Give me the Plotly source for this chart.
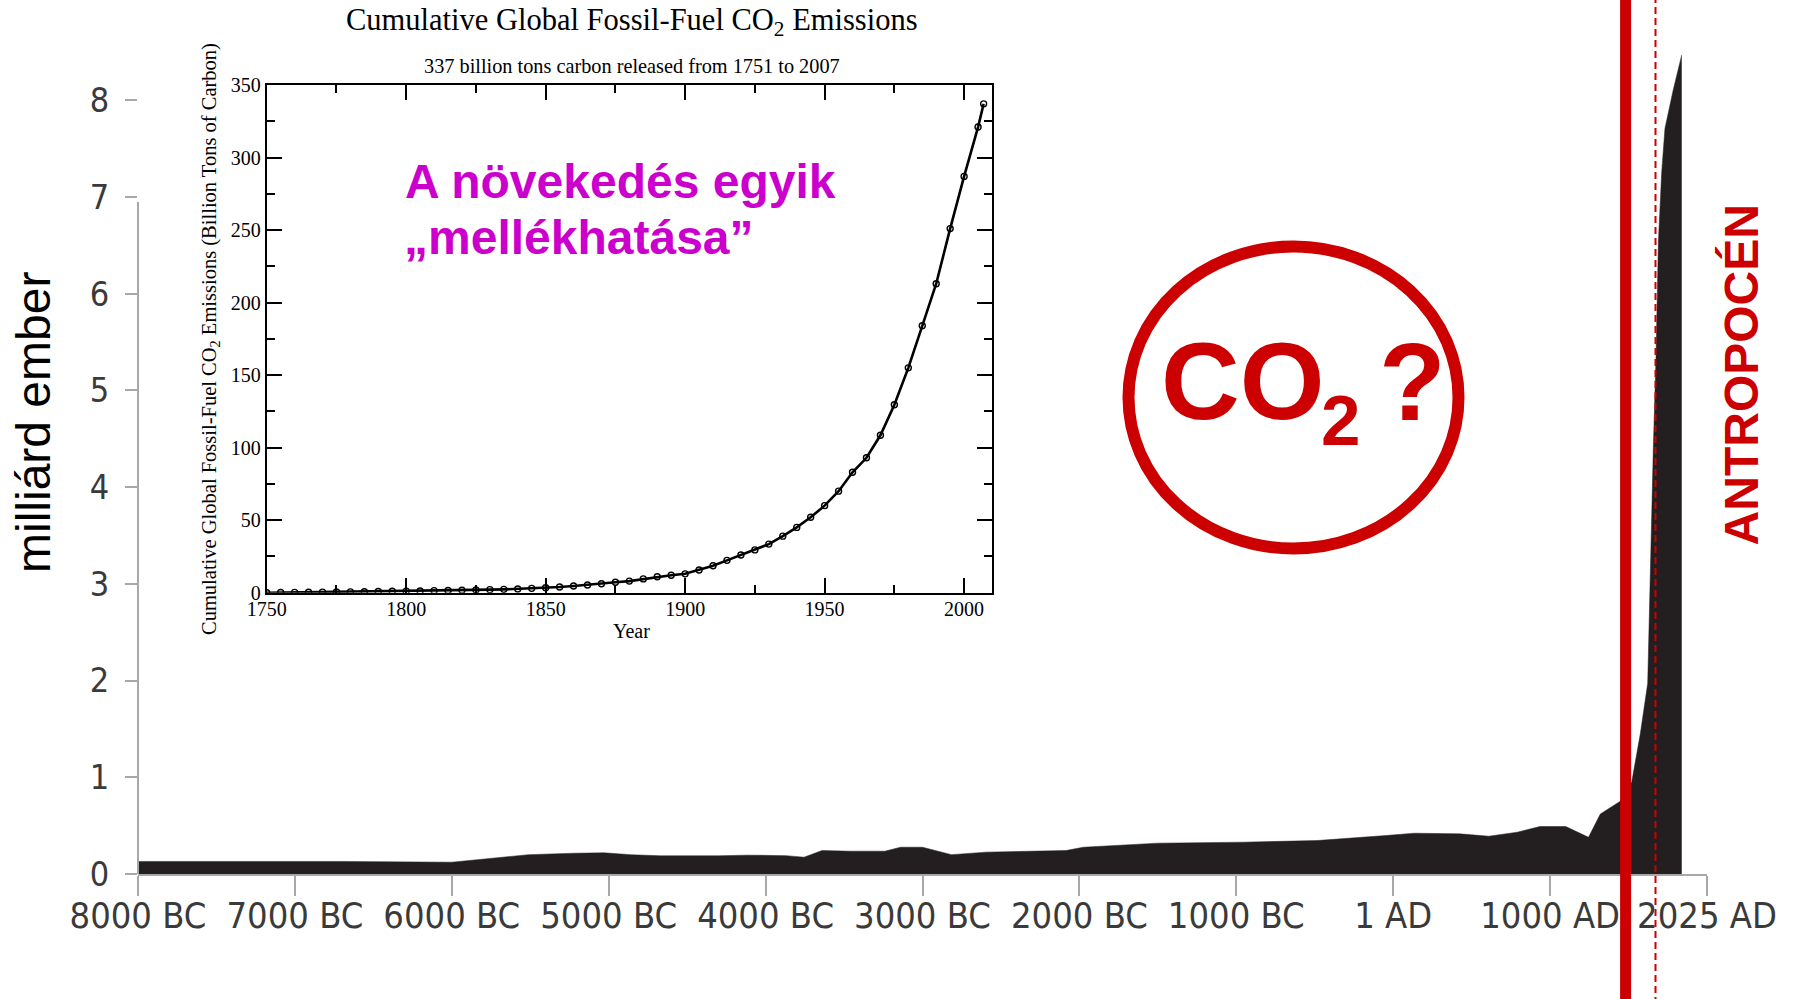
import plotly.graph_objects as go

# ---------------- data ----------------
# world population (billions) vs. year (position on the time axis)
pop_years = [-8000, -6700, -6000, -5850, -5660, -5510, -5220, -5030, -4860, -4670,
             -4300, -4120, -3870, -3755, -3640, -3460, -3240, -3140, -3000, -2815,
             -2595, -2085, -1975, -1500, -955, -485, -45, 135, 425, 610,
             790, 935, 1100, 1245, 1320, 1445, 1520, 1575, 1622, 1637,
             1658, 1675, 1690, 1711, 1732, 1785, 1839]
pop_values = [0.13, 0.13, 0.122, 0.147, 0.174, 0.20, 0.215, 0.219, 0.20, 0.188,
              0.188, 0.195, 0.19, 0.174, 0.243, 0.236, 0.236, 0.277, 0.277, 0.20,
              0.226, 0.243, 0.277, 0.319, 0.329, 0.346, 0.398, 0.422, 0.415, 0.391,
              0.432, 0.491, 0.491, 0.38, 0.62, 0.75, 0.95, 1.45, 1.97, 3.1,
              4.41, 5.34, 6.53, 7.25, 7.71, 8.11, 8.47]

x_tick_vals = [-8000, -7000, -6000, -5000, -4000, -3000, -2000, -1000, 0, 1000, 2000]
x_tick_text = ["8000 BC", "7000 BC", "6000 BC", "5000 BC", "4000 BC", "3000 BC",
               "2000 BC", "1000 BC", "1 AD", "1000 AD", "2025 AD"]
y_tick_vals = [0, 1, 2, 3, 4, 5, 6, 7, 8]

# cumulative fossil-fuel CO2 emissions (billion tons carbon)
co2_years = [1750, 1755, 1760, 1765, 1770, 1775, 1780, 1785, 1790, 1795,
             1800, 1805, 1810, 1815, 1820, 1825, 1830, 1835, 1840, 1845,
             1850, 1855, 1860, 1865, 1870, 1875, 1880, 1885, 1890, 1895,
             1900, 1905, 1910, 1915, 1920, 1925, 1930, 1935, 1940, 1945,
             1950, 1955, 1960, 1965, 1970, 1975, 1980, 1985, 1990, 1995,
             2000, 2005, 2007]
co2_values = [0.0, 0.1, 0.2, 0.3, 0.4, 0.5, 0.6, 0.7, 0.8, 1.0,
              1.1, 1.2, 1.4, 1.5, 1.7, 1.9, 2.1, 2.3, 2.6, 3.0,
              3.4, 3.9, 4.6, 5.3, 6.2, 7.2, 8.0, 9.5, 11.0, 12.0,
              13.0, 15.6, 18.6, 22.3, 26.0, 29.5, 33.5, 39.0, 45.0, 52.0,
              60.0, 70.0, 83.0, 93.0, 108.5, 129.6, 155.0, 184.0, 213.0, 251.0,
              287.0, 321.0, 337.0]
co2_x_ticks = [1750, 1800, 1850, 1900, 1950, 2000]

# ---------------- geometry helpers (pixel -> paper) ----------------
W, H = 1795, 999
ML, MR, MT, MB = 138, 88, 52, 125
PW, PH = W - ML - MR, H - MT - MB


def px(X):
    return (X - ML) / PW


def py(Y):
    return (H - MB - Y) / PH


RED = "#cc0000"
MAG = "#cc00cc"
AREA = "#231f20"
GRAY = "#a8a8a8"
SANS = "Liberation Sans, Arial, sans-serif"
SERIF = "Liberation Serif, Times New Roman, serif"
TICKFONT = "DejaVu Sans Condensed, DejaVu Sans, sans-serif"

fig = go.Figure()

fig.add_trace(go.Scatter(
    x=pop_years, y=pop_values, mode="lines", fill="tozeroy",
    line=dict(color=AREA, width=0.5), fillcolor=AREA,
    hoverinfo="skip", showlegend=False, xaxis="x", yaxis="y"))

fig.add_trace(go.Scatter(
    x=co2_years, y=co2_values, mode="lines+markers",
    line=dict(color="black", width=2.6),
    marker=dict(symbol="circle-open", size=6, color="black", line=dict(width=1.4)),
    hoverinfo="skip", showlegend=False, xaxis="x2", yaxis="y2"))

fig.update_layout(
    width=W, height=H, autosize=False,
    margin=dict(l=ML, r=MR, t=MT, b=MB, pad=0),
    paper_bgcolor="white", plot_bgcolor="rgba(0,0,0,0)",
    showlegend=False,
    xaxis=dict(range=[-8000, 2000], tickvals=x_tick_vals, ticktext=x_tick_text,
               showgrid=False, zeroline=False, showline=True, linecolor=GRAY,
               linewidth=2, ticks="outside", ticklen=20, tickwidth=2, tickcolor=GRAY,
               tickfont=dict(family=TICKFONT, size=36, color="#3a3a3a"),
               ticklabelstandoff=-11),
    yaxis=dict(range=[0, 8.5], tickvals=y_tick_vals, showgrid=False, zeroline=False,
               showline=False, ticks="outside", ticklen=12, tickwidth=2, tickcolor=GRAY,
               tickfont=dict(family=TICKFONT, size=34, color="#3a3a3a"),
               ticklabelstandoff=9),
    xaxis2=dict(domain=[px(266.7), px(992)], anchor="y2", range=[1750, 2010],
                tickvals=co2_x_ticks,
                showgrid=False, zeroline=False, showline=True, linecolor="black",
                linewidth=2, mirror="ticks", ticks="inside", ticklen=15, tickwidth=2,
                tickcolor="black",
                minor=dict(dtick=25, tick0=1750, ticks="inside", ticklen=8,
                           tickwidth=2, tickcolor="black"),
                tickfont=dict(family=SERIF, size=20, color="black"),
                ticklabelstandoff=-3),
    yaxis2=dict(domain=[py(592.7), py(85)], anchor="x2", range=[0, 350], dtick=50,
                showgrid=False, zeroline=False, showline=True, linecolor="black",
                linewidth=2, mirror="ticks", ticks="inside", ticklen=15, tickwidth=2,
                tickcolor="black",
                minor=dict(dtick=25, ticks="inside", ticklen=8, tickwidth=2,
                           tickcolor="black"),
                tickfont=dict(family=SERIF, size=20, color="black")),
)

shapes = [
    # y axis line (only up to ~7)
    dict(type="line", xref="paper", yref="y", x0=0, x1=0, y0=0, y1=6.95,
         line=dict(color=GRAY, width=2)),
    # CO2 ring
    dict(type="circle", xref="paper", yref="paper",
         x0=px(1128.5), x1=px(1458.5), y0=py(548.5), y1=py(246.5),
         line=dict(color=RED, width=12)),
    # thick red vertical line
    dict(type="line", xref="paper", yref="paper", x0=px(1625.6), x1=px(1625.6),
         y0=py(H + 5), y1=py(-5), line=dict(color=RED, width=11)),
    # dashed red vertical line
    dict(type="line", xref="paper", yref="paper", x0=px(1655.5), x1=px(1655.5),
         y0=py(H + 5), y1=py(-5), line=dict(color=RED, width=2, dash="7px,4px")),
]
fig.update_layout(shapes=shapes)


def ann(text, X, Y, size, color, family, xanchor="center", angle=0, bold=False):
    return dict(text=("<b>%s</b>" % text) if bold else text, xref="paper", yref="paper",
                x=px(X), y=py(Y), xanchor=xanchor, yanchor="middle", showarrow=False,
                textangle=angle, borderpad=0,
                font=dict(size=size, color=color, family=family))


annotations = [
    ann("milliárd ember", 34, 423, 48, "black", SANS, angle=-90),
    ann("ANTROPOCÉN", 1741.4, 375, 48, RED, SANS, angle=-90, bold=True),
    ann("A növekedés egyik", 404, 181.7, 48, MAG, SANS, xanchor="left", bold=True),
    ann("„mellékhatása”", 403, 237.8, 48, MAG, SANS, xanchor="left", bold=True),
    ann("CO", 1160, 380.8, 109, RED, SANS, xanchor="left", bold=True),
    ann("2", 1320, 420.5, 71, RED, SANS, xanchor="left", bold=True),
    ann("?", 1378, 381.5, 109, RED, SANS, xanchor="left", bold=True),
    ann("Cumulative Global Fossil-Fuel CO<sub>2</sub> Emissions", 631.5, 22.5, 30.5,
        "black", SERIF),
    ann("337 billion tons carbon released from 1751 to 2007", 631.5, 66, 20.3,
        "black", SERIF),
    ann("Cumulative Global Fossil-Fuel CO<sub>2</sub> Emissions (Billion Tons of Carbon)",
        211, 339, 20.5, "black", SERIF, angle=-90),
    ann("Year", 631, 631.4, 20, "black", SERIF),
]
fig.update_layout(annotations=annotations)

fig.write_html("out.html", include_plotlyjs=True, full_html=True,
               config={"displayModeBar": False},
               post_script="document.body.style.margin='0';")
